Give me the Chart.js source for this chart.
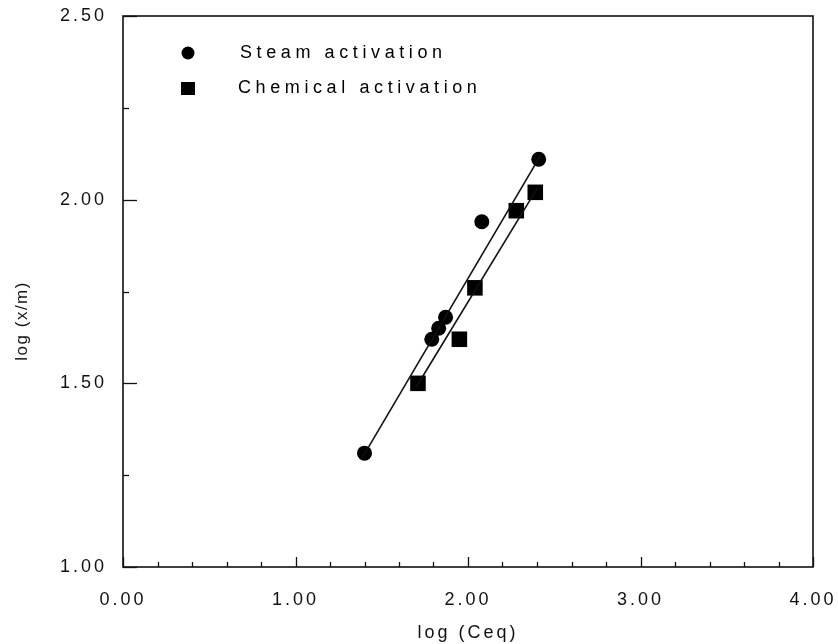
<!DOCTYPE html>
<html>
<head>
<meta charset="utf-8">
<script src="https://cdn.jsdelivr.net/npm/chart.js@4.4.1/dist/chart.umd.min.js"></script>
<style>
  html, body { margin: 0; padding: 0; background: #fff; }
  #wrap { width: 838px; height: 644px; position: relative; }
</style>
</head>
<body>
<div id="wrap"><canvas id="c" width="838" height="644"></canvas></div>
<script>
// ---- data ----
const seriesNames = ['Steam activation', 'Chemical activation'];
const steamX = [1.40, 1.79, 1.83, 1.87, 2.08, 2.41];
const steamY = [1.31, 1.62, 1.65, 1.68, 1.94, 2.11];
const chemX = [1.71, 1.95, 2.04, 2.28, 2.39];
const chemY = [1.50, 1.62, 1.76, 1.97, 2.02];
// fitted lines (end points)
const steamLineX = [1.39, 2.42];
const steamLineY = [1.30, 2.12];
const chemLineX = [1.70, 2.40];
const chemLineY = [1.49, 2.03];
const xTickValues = [0, 1, 2, 3, 4];
const yTickValues = [1.0, 1.5, 2.0, 2.5];
const xMinorStep = 0.2;
const yMinorStep = 0.25;
const xTitle = 'log (Ceq)';
const yTitle = 'log (x/m)';

const pts = (xs, ys) => xs.map((x, i) => ({x: x, y: ys[i]}));

const FONT = '"Liberation Sans", Arial, sans-serif';

const spacingPlugin = {
  id: 'spacing',
  beforeLayout(chart) { chart.ctx.letterSpacing = '3px'; },
  beforeDraw(chart) {
    chart.ctx.letterSpacing = '3px';
    const ctx = chart.ctx;
    ctx.save();
    ctx.fillStyle = '#fff';
    ctx.fillRect(0, 0, chart.width, chart.height);
    ctx.restore();
  }
};

const framePlugin = {
  id: 'frame',
  afterDatasetsDraw(chart) {
    const ctx = chart.ctx;
    const a = chart.chartArea;
    const xs = chart.scales.x, ys = chart.scales.y;
    ctx.save();
    ctx.strokeStyle = '#111';
    ctx.lineWidth = 1.6;
    ctx.strokeRect(a.left, a.top, a.right - a.left, a.bottom - a.top);
    ctx.lineWidth = 1.3;
    // x ticks (inward)
    for (let v = 0; v <= 4.0001; v += xMinorStep) {
      const px = Math.round(xs.getPixelForValue(v)) + 0.5;
      const major = Math.abs(v - Math.round(v)) < 1e-6;
      ctx.beginPath();
      ctx.moveTo(px, a.bottom);
      ctx.lineTo(px, a.bottom - (major ? 10 : 5));
      ctx.stroke();
    }
    // y ticks (inward)
    for (let v = 1; v <= 2.5001; v += yMinorStep) {
      const py = Math.round(ys.getPixelForValue(v)) + 0.5;
      const major = Math.abs(v * 2 - Math.round(v * 2)) < 1e-6;
      ctx.beginPath();
      ctx.moveTo(a.left, py);
      ctx.lineTo(a.left + (major ? 14 : 6), py);
      ctx.stroke();
    }
    // legend
    const lx = a.left + 65;
    const ly1 = a.top + 37, ly2 = a.top + 72;
    ctx.fillStyle = '#000';
    ctx.beginPath();
    ctx.arc(lx, ly1, 6.5, 0, Math.PI * 2);
    ctx.fill();
    ctx.fillRect(lx - 7, ly2 - 6, 14, 13);
    ctx.font = '18px ' + FONT;
    ctx.letterSpacing = '4.6px';
    ctx.textBaseline = 'middle';
    ctx.textAlign = 'left';
    ctx.fillText(seriesNames[0], lx + 52, ly1);
    ctx.fillText(seriesNames[1], lx + 50, ly2);
    // y axis title
    ctx.letterSpacing = '1.5px';
    ctx.font = '17px ' + FONT;
    ctx.fillStyle = '#111';
    ctx.translate(22, ys.getPixelForValue(1.67));
    ctx.rotate(-Math.PI / 2);
    ctx.textAlign = 'center';
    ctx.fillText(yTitle, 0, 0);
    ctx.restore();
  }
};

new Chart(document.getElementById('c'), {
  type: 'scatter',
  data: {
    datasets: [
      {
        label: seriesNames[0] + ' fit',
        data: pts(steamLineX, steamLineY),
        showLine: true, borderColor: '#111', borderWidth: 1.6,
        pointRadius: 0, fill: false
      },
      {
        label: seriesNames[1] + ' fit',
        data: pts(chemLineX, chemLineY),
        showLine: true, borderColor: '#111', borderWidth: 1.6,
        pointRadius: 0, fill: false
      },
      {
        label: seriesNames[0],
        data: pts(steamX, steamY),
        pointStyle: 'circle', pointRadius: 7.5,
        backgroundColor: '#000', borderColor: '#000', borderWidth: 0
      },
      {
        label: seriesNames[1],
        data: pts(chemX, chemY),
        pointStyle: 'rect', pointRadius: 11,
        backgroundColor: '#000', borderColor: '#000', borderWidth: 0
      }
    ]
  },
  options: {
    responsive: false,
    animation: false,
    devicePixelRatio: 1,
    layout: { padding: { top: 16, right: 25, left: 0, bottom: 0 } },
    plugins: { legend: { display: false }, tooltip: { enabled: false } },
    scales: {
      x: {
        type: 'linear', min: 0, max: 4,
        afterBuildTicks: s => { s.ticks = xTickValues.map(v => ({value: v})); },
        afterFit: s => { s.height = 77; s.paddingLeft = 0; s.paddingRight = 0; },
        grid: { display: false, drawTicks: false },
        border: { display: false },
        ticks: {
          color: '#111', padding: 22,
          font: { family: FONT, size: 18 },
          callback: v => Number(v).toFixed(2),
          maxRotation: 0, autoSkip: false
        },
        title: {
          display: true, text: xTitle, color: '#111',
          font: { family: FONT, size: 18 }, padding: { top: 8, bottom: 0 }
        }
      },
      y: {
        type: 'linear', min: 1, max: 2.5,
        afterBuildTicks: s => { s.ticks = yTickValues.map(v => ({value: v})); },
        afterFit: s => { s.width = 123; s.paddingTop = 0; s.paddingBottom = 0; },
        grid: { display: false, drawTicks: false },
        border: { display: false },
        ticks: {
          color: '#111', padding: 16,
          font: { family: FONT, size: 18 },
          callback: v => Number(v).toFixed(2)
        },
        title: { display: false }
      }
    }
  },
  plugins: [spacingPlugin, framePlugin]
});
</script>
</body>
</html>
